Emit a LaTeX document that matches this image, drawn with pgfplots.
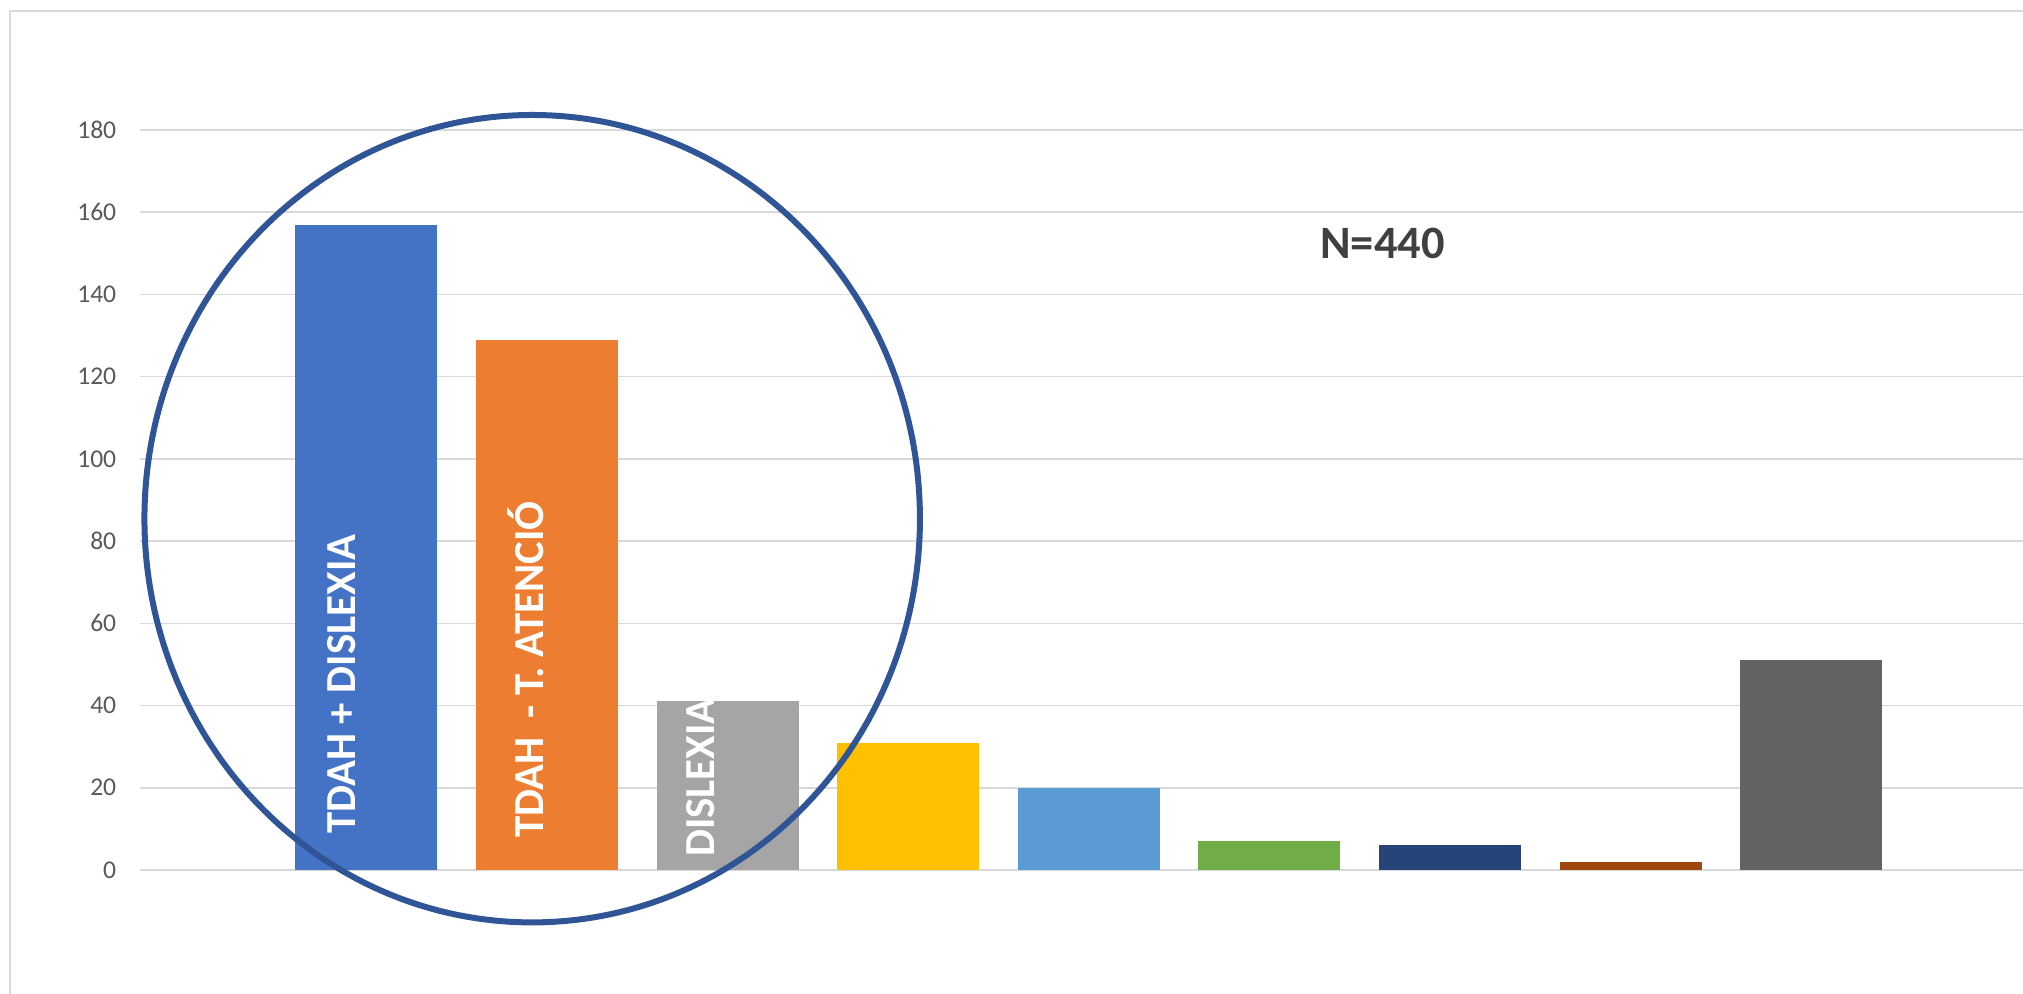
\documentclass[border=0pt]{standalone}
\usepackage{pgfplots}
\pgfplotsset{compat=1.18}
\usepackage{fontspec}
\setmainfont{Carlito}
\definecolor{cBlue}{HTML}{4472C4}
\definecolor{cOrange}{HTML}{ED7D31}
\definecolor{cGray}{HTML}{A5A5A5}
\definecolor{cGold}{HTML}{FFC000}
\definecolor{cLBlue}{HTML}{5B9BD5}
\definecolor{cGreen}{HTML}{70AD47}
\definecolor{cNavy}{HTML}{264478}
\definecolor{cBrown}{HTML}{9E480E}
\definecolor{cDGray}{HTML}{636363}
\definecolor{cCircle}{HTML}{2F5597}
\definecolor{gridGray}{HTML}{D9D9D9}
\definecolor{tickGray}{HTML}{595959}
\definecolor{txtGray}{HTML}{404040}
\begin{document}
\begin{tikzpicture}
\draw[gridGray, line width=0.5pt] (2.5pt,-5pt) -- (2.5pt,245.75pt) -- (515pt,245.75pt);
\begin{axis}[
  at={(35pt,31pt)}, anchor=south west,
  scale only axis, width=470.75pt, height=185pt,
  xmin=-1.2536, xmax=9.173, ymin=0, ymax=180,
  ytick={0,20,...,180}, xtick=\empty,
  ymajorgrids, grid style={gridGray, line width=0.4pt},
  axis line style={draw=none},
  major tick length=0pt,
  yticklabel style={anchor=east, inner sep=0pt, xshift=-5.75pt, font=\fontsize{6.4}{7}\selectfont, text=tickGray},
  /pgf/number format/assume math mode=true,
  clip=false,
]
\addplot[ybar, bar shift=0pt, bar width=0.786, fill=cBlue, draw=none] coordinates {(0,157)};
\addplot[ybar, bar shift=0pt, bar width=0.786, fill=cOrange, draw=none] coordinates {(1,129)};
\addplot[ybar, bar shift=0pt, bar width=0.786, fill=cGray, draw=none] coordinates {(2,41)};
\addplot[ybar, bar shift=0pt, bar width=0.786, fill=cGold, draw=none] coordinates {(3,31)};
\addplot[ybar, bar shift=0pt, bar width=0.786, fill=cLBlue, draw=none] coordinates {(4,20)};
\addplot[ybar, bar shift=0pt, bar width=0.786, fill=cGreen, draw=none] coordinates {(5,7)};
\addplot[ybar, bar shift=0pt, bar width=0.786, fill=cNavy, draw=none] coordinates {(6,6)};
\addplot[ybar, bar shift=0pt, bar width=0.786, fill=cBrown, draw=none] coordinates {(7,2)};
\addplot[ybar, bar shift=0pt, bar width=0.786, fill=cDGray, draw=none] coordinates {(8,51)};
\node[rotate=90, anchor=base west, inner sep=0pt, text=white, font=\fontsize{10.7}{12}\selectfont\bfseries] at (axis cs:-0.063,8.6) {TDAH + DISLEXIA};
\node[rotate=90, anchor=base west, inner sep=0pt, text=white, font=\fontsize{10.7}{12}\selectfont\bfseries] at (axis cs:0.9795,7.6) {TDAH\ \ - T. ATENCIÓ};
\node[rotate=90, anchor=base west, inner sep=0pt, text=white, font=\fontsize{10.7}{12}\selectfont\bfseries] at (axis cs:1.925,3.0) {DISLEXIA};
\node[text=txtGray, font=\fontsize{11.6}{13}\selectfont\bfseries] at (axis cs:5.626,152.5) {N=440};
\draw[cCircle, line width=1.5pt] (axis cs:0.918,85.45) ellipse [x radius=2.147, y radius=98.2];
\end{axis}
\pgfresetboundingbox
\useasboundingbox (0,0) rectangle (505.75pt,248.5pt);
\end{tikzpicture}
\end{document}
